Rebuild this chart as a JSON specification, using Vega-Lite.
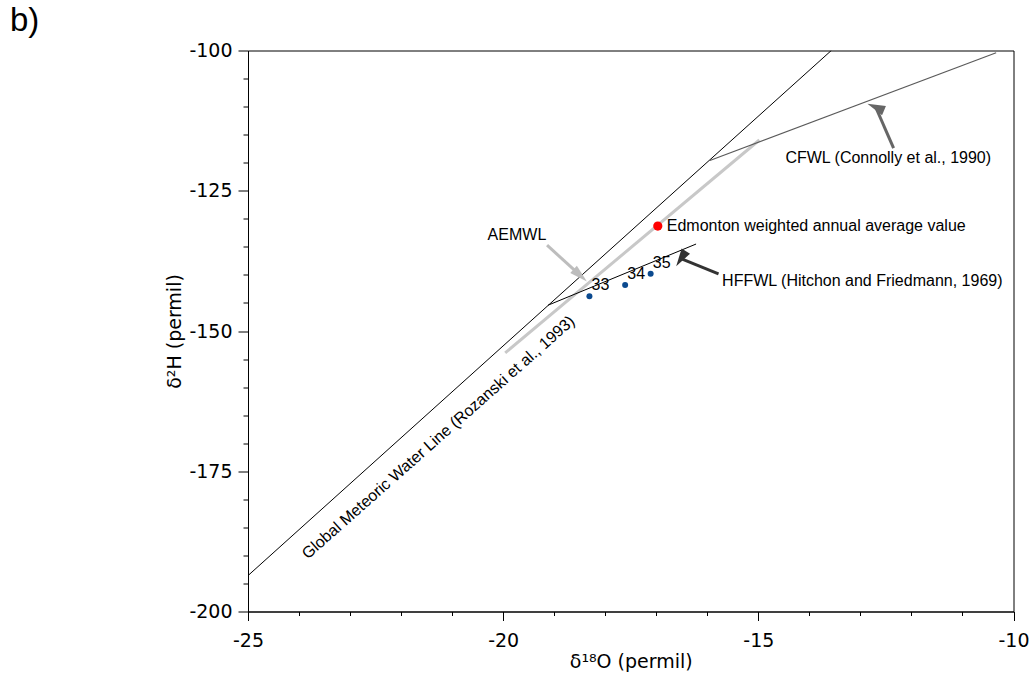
{
  "$schema": "https://vega.github.io/schema/vega-lite/v6.json",
  "width": 765.5,
  "height": 561,
  "autosize": "none",
  "padding": {"left": 248, "top": 50.5, "right": 18.5, "bottom": 61.5},
  "background": "white",
  "title": {
    "text": "b)",
    "anchor": "start",
    "frame": "group",
    "font": "Liberation Sans",
    "fontSize": 33,
    "fontWeight": "normal",
    "color": "black",
    "dx": -238,
    "offset": 4
  },
  "config": {
    "font": "Liberation Sans",
    "view": {"stroke": "black", "strokeWidth": 1}
  },
  "datasets": {
    "lines": [
      {"line": "GMWL", "x": -25, "y": -193.6},
      {"line": "GMWL", "x": -13.57, "y": -100},
      {"line": "AEMWL", "x": -19.96, "y": -153.9},
      {"line": "AEMWL", "x": -14.98, "y": -115.95},
      {"line": "HFFWL", "x": -19.12, "y": -145.4},
      {"line": "HFFWL", "x": -16.22, "y": -134.5},
      {"line": "CFWL", "x": -15.95, "y": -119.6},
      {"line": "CFWL", "x": -10.34, "y": -100.4}
    ],
    "samples": [
      {"sample": "33", "x": -18.31, "y": -143.8},
      {"sample": "34", "x": -17.61, "y": -141.8},
      {"sample": "35", "x": -17.11, "y": -139.8}
    ],
    "edmonton": [
      {"label": "Edmonton weighted annual average value", "x": -16.97, "y": -131.3}
    ],
    "arrows": [
      {"name": "AEMWL", "x": -19.14, "y": -134.7, "x2": -18.49, "y2": -140.1},
      {"name": "HFFWL", "x": -15.78, "y": -139.8, "x2": -16.515, "y2": -137.1},
      {"name": "CFWL", "x": -12.35, "y": -117.4, "x2": -12.7, "y2": -110.1}
    ],
    "notes": [
      {"text": "CFWL (Connolly et al., 1990)", "x": -14.47, "y": -119.2},
      {"text": "HFFWL (Hitchon and Friedmann, 1969)", "x": -15.71, "y": -141.1}
    ],
    "centered": [
      {"text": "AEMWL", "x": -19.73, "y": -132.9}
    ],
    "gmwlLabel": [
      {"text": "Global Meteoric Water Line (Rozanski et al., 1993)", "x": -21.27, "y": -169.0}
    ]
  },
  "encoding": {
    "x": {
      "field": "x",
      "type": "quantitative",
      "scale": {"domain": [-25, -10], "nice": false, "zero": false},
      "axis": {
        "title": "δ¹⁸O (permil)",
        "values": [-25, -24, -23, -22, -21, -20, -19, -18, -17, -16, -15, -14, -13, -12, -11, -10],
        "labelExpr": "datum.value % 5 === 0 ? '' + datum.value : ''",
        "labelOverlap": false,
        "labelFlush": false,
        "labelFont": "DejaVu Sans",
        "labelFontSize": 19,
        "labelColor": "black",
        "labelPadding": 11,
        "tickSize": {"condition": {"test": "datum.value % 5 === 0", "value": 9}, "value": 4},
        "tickColor": "black",
        "domainColor": "black",
        "grid": false,
        "titleFont": "DejaVu Sans",
        "titleFontSize": 19,
        "titleFontWeight": "normal",
        "titleColor": "black",
        "titlePadding": 2
      }
    },
    "y": {
      "field": "y",
      "type": "quantitative",
      "scale": {"domain": [-200, -100], "nice": false, "zero": false},
      "axis": {
        "title": "δ²H (permil)",
        "values": [-200, -195, -190, -185, -180, -175, -170, -165, -160, -155, -150, -145, -140, -135, -130, -125, -120, -115, -110, -105, -100],
        "labelExpr": "datum.value % 25 === 0 ? '' + datum.value : ''",
        "labelOverlap": false,
        "labelFlush": false,
        "labelFont": "DejaVu Sans",
        "labelFontSize": 19,
        "labelColor": "black",
        "labelPadding": 6,
        "tickSize": {"condition": {"test": "datum.value % 25 === 0", "value": 10}, "value": 5},
        "tickColor": "black",
        "domainColor": "black",
        "grid": false,
        "titleFont": "DejaVu Sans",
        "titleFontSize": 19,
        "titleFontWeight": "normal",
        "titleColor": "black",
        "titlePadding": 4
      }
    }
  },
  "layer": [
    {
      "data": {"name": "lines"},
      "transform": [{"filter": "datum.line === 'AEMWL'"}],
      "mark": {"type": "line", "color": "#c8c8c8", "strokeWidth": 3, "clip": true}
    },
    {
      "data": {"name": "lines"},
      "transform": [{"filter": "datum.line === 'GMWL'"}],
      "mark": {"type": "line", "color": "black", "strokeWidth": 1, "clip": true}
    },
    {
      "data": {"name": "lines"},
      "transform": [{"filter": "datum.line === 'HFFWL'"}],
      "mark": {"type": "line", "color": "black", "strokeWidth": 1, "clip": true}
    },
    {
      "data": {"name": "lines"},
      "transform": [{"filter": "datum.line === 'CFWL'"}],
      "mark": {"type": "line", "color": "#5a5a5a", "strokeWidth": 1.2, "clip": true}
    },
    {
      "data": {"name": "arrows"},
      "mark": {"type": "rule", "strokeWidth": 3},
      "encoding": {
        "x2": {"field": "x2"},
        "y2": {"field": "y2"},
        "color": {
          "field": "name",
          "type": "nominal",
          "scale": {"domain": ["AEMWL", "HFFWL", "CFWL"], "range": ["#bdbdbd", "#333333", "#666666"]},
          "legend": null
        }
      }
    },
    {
      "data": {"name": "arrows"},
      "mark": {"type": "point", "shape": "M0,-1L0.55,1L-0.55,1Z", "filled": true, "size": 324, "opacity": 1},
      "encoding": {
        "x": {"field": "x2", "type": "quantitative"},
        "y": {"field": "y2", "type": "quantitative"},
        "color": {
          "field": "name",
          "type": "nominal",
          "scale": {"domain": ["AEMWL", "HFFWL", "CFWL"], "range": ["#bdbdbd", "#333333", "#666666"]},
          "legend": null
        },
        "angle": {
          "field": "name",
          "type": "nominal",
          "scale": {"domain": ["AEMWL", "HFFWL", "CFWL"], "range": [132, 293, 337]},
          "legend": null
        }
      }
    },
    {
      "data": {"name": "samples"},
      "mark": {"type": "circle", "color": "#0b4a8f", "size": 36, "opacity": 1}
    },
    {
      "data": {"name": "samples"},
      "mark": {"type": "text", "fontSize": 16, "color": "black", "align": "center", "baseline": "middle", "dx": 11, "dy": -11},
      "encoding": {"text": {"field": "sample"}}
    },
    {
      "data": {"name": "edmonton"},
      "mark": {"type": "circle", "color": "#ff0000", "size": 85, "opacity": 1}
    },
    {
      "data": {"name": "edmonton"},
      "mark": {"type": "text", "fontSize": 16, "color": "black", "align": "left", "baseline": "middle", "dx": 9},
      "encoding": {"text": {"field": "label"}}
    },
    {
      "data": {"name": "notes"},
      "mark": {"type": "text", "fontSize": 16, "color": "black", "align": "left", "baseline": "middle"},
      "encoding": {"text": {"field": "text"}}
    },
    {
      "data": {"name": "centered"},
      "mark": {"type": "text", "fontSize": 16, "color": "black", "align": "center", "baseline": "middle"},
      "encoding": {"text": {"field": "text"}}
    },
    {
      "data": {"name": "gmwlLabel"},
      "mark": {"type": "text", "fontSize": 16, "color": "black", "align": "center", "baseline": "middle", "angle": -41.5},
      "encoding": {"text": {"field": "text"}}
    }
  ]
}
